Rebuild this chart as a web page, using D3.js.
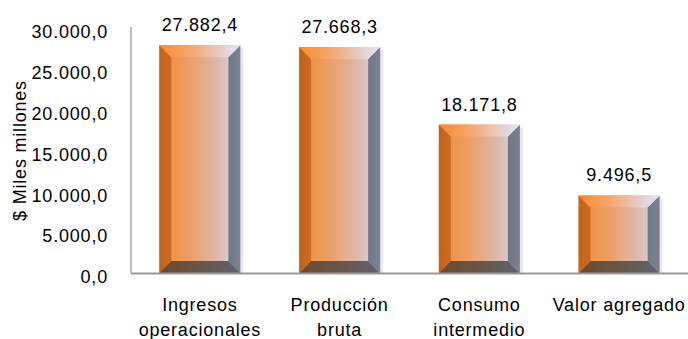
<!DOCTYPE html>
<html><head><meta charset="utf-8">
<script src="https://cdn.jsdelivr.net/npm/d3@7"></script>
<style>
html,body{margin:0;padding:0;background:#fff;}
svg{display:block;}
text{font-family:"Liberation Sans",Arial,sans-serif;fill:#000;letter-spacing:0.8px;}
</style></head>
<body>
<svg id="chart" width="688" height="339"></svg>
<script>
const categories = ["Ingresos\noperacionales", "Producción\nbruta", "Consumo\nintermedio", "Valor agregado"];
const values = [27882.4, 27668.3, 18171.8, 9496.5];
const tickValues = [0, 5000, 10000, 15000, 20000, 25000, 30000];
const yTitle = "$ Miles millones";

const W = 688, H = 339;
const svg = d3.select("#chart");
const locale = d3.formatLocale({decimal: ",", thousands: ".", grouping: [3], currency: ["$", ""]});
const fmt = locale.format(",.1f");

const x = d3.scaleBand().domain(categories).range([130, 689]).paddingInner(0.42).paddingOuter(0.21);
const y = d3.scaleLinear().domain([0, 30000]).range([273, 28]);

const defs = svg.append("defs");
function grad(id, stops) {
  const g = defs.append("linearGradient").attr("id", id).attr("x1", 0).attr("y1", 0).attr("x2", 1).attr("y2", 0);
  stops.forEach(s => g.append("stop").attr("offset", s[0]).attr("stop-color", s[1]));
}
grad("face", [[0, "#F08A36"], [0.35, "#EC9E62"], [0.7, "#DDB7A8"], [1, "#D8D6EA"]]);
grad("top", [[0, "#FB8A2C"], [0.4, "#F4A870"], [0.8, "#E4D2D4"], [1, "#DDE8FA"]]);
grad("bottom", [[0, "#6E4A2E"], [0.5, "#6A5548"], [1, "#5E6470"]]);
grad("left", [[0, "#C2621A"], [1, "#CC6C22"]]);
grad("right", [[0, "#707888"], [1, "#7A8292"]]);

// y axis line
svg.append("line").attr("x1", 131).attr("x2", 131).attr("y1", y(30000) - 1).attr("y2", y(0))
  .attr("stroke", "#999").attr("stroke-width", 1.3);

// tick labels
svg.append("g").selectAll("text").data(tickValues).join("text")
  .attr("x", 108).attr("y", d => y(d) + 4).attr("dy", "0.35em")
  .attr("text-anchor", "end").attr("font-size", 18)
  .text(d => fmt(d));

// y title
svg.append("text").attr("transform", `translate(20,${(y(0) + y(30000)) / 2}) rotate(-90)`)
  .attr("text-anchor", "middle").attr("dy", "0.35em").attr("font-size", 18).text(yTitle);

// bars
const b = 12;
const bars = svg.append("g").selectAll("g").data(values).join("g");
bars.each(function(v, i) {
  const g = d3.select(this);
  const x0 = x(categories[i]), x1 = x0 + x.bandwidth();
  const y0 = y(v), y1 = y(0);
  g.append("rect").attr("x", x1).attr("y", y0 + 3).attr("width", 3).attr("height", y1 - y0 - 3)
    .attr("fill", "#d9d9d9").attr("opacity", 0.6);
  g.append("rect").attr("x", x0).attr("y", y0).attr("width", x1 - x0).attr("height", y1 - y0).attr("fill", "url(#face)");
  g.append("polygon").attr("points", [[x0, y0], [x0 + b, y0 + b], [x0 + b, y1 - b], [x0, y1]].join(" ")).attr("fill", "url(#left)");
  g.append("polygon").attr("points", [[x1, y0], [x1 - b, y0 + b], [x1 - b, y1 - b], [x1, y1]].join(" ")).attr("fill", "url(#right)");
  g.append("polygon").attr("points", [[x0, y0], [x1, y0], [x1 - b, y0 + b], [x0 + b, y0 + b]].join(" ")).attr("fill", "url(#top)");
  g.append("polygon").attr("points", [[x0, y1], [x1, y1], [x1 - b, y1 - b], [x0 + b, y1 - b]].join(" ")).attr("fill", "url(#bottom)");
});

// baseline
svg.append("line").attr("x1", 131).attr("x2", 688).attr("y1", y(0) + 0.5).attr("y2", y(0) + 0.5)
  .attr("stroke", "#999").attr("stroke-width", 2);

// value labels
svg.append("g").selectAll("text").data(values).join("text")
  .attr("x", (d, i) => x(categories[i]) + x.bandwidth() / 2)
  .attr("y", d => y(d) - 14)
  .attr("text-anchor", "middle").attr("font-size", 18)
  .text(d => fmt(d));

// category labels
const cat = svg.append("g").selectAll("text").data(categories).join("text")
  .attr("x", d => x(d) + x.bandwidth() / 2)
  .attr("y", 311)
  .attr("text-anchor", "middle").attr("font-size", 18);
cat.each(function(d) {
  const t = d3.select(this);
  d.split("\n").forEach((line, k) => {
    t.append("tspan").attr("x", x(d) + x.bandwidth() / 2).attr("y", 311 + k * 25).text(line);
  });
});
</script>
</body></html>
